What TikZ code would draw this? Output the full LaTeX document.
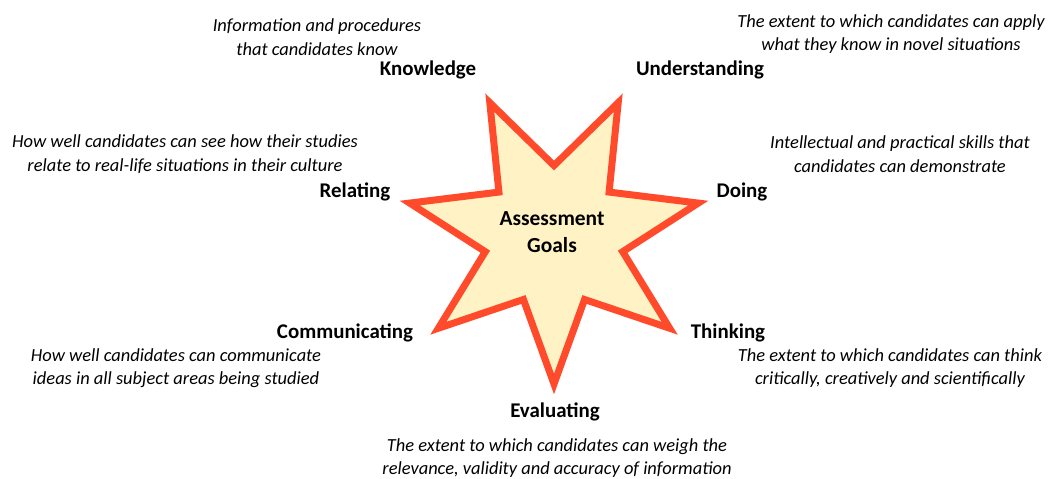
\documentclass[tikz,border=0pt]{standalone}
\usepackage{fontspec}
\setmainfont{Carlito}
\usetikzlibrary{shapes, positioning}
\definecolor{starfill}{RGB}{255,242,196}
\definecolor{starline}{RGB}{255,75,43}

\begin{document}
\begin{tikzpicture}[
    x=0.02cm, y=-0.02cm,
    goal/.style={font=\bfseries\fontsize{11.9}{13}\selectfont, inner sep=0pt},
    desc/.style={font=\itshape\fontsize{10.5}{13.4}\selectfont, align=center, inner sep=0pt},
    hub/.style={star, star points=7, star point ratio=2.1, shape border rotate=180,
        minimum size=5.92cm, inner sep=0pt, draw=starline, fill=starfill, line width=0.14cm},
    hubtext/.style={align=center, inner sep=0pt, font=\bfseries\fontsize{12.2}{15.4}\selectfont}
]
    \useasboundingbox (0,0) rectangle (1052,478);
    % Central star
    \node[hub] (goals) at (554,236) {};
    \node[hubtext] (goalstxt) at (552,232) {Assessment\\Goals};

    % Goals and their descriptions
    \node[goal] (know) at (428,70) {Knowledge};
    \node[desc] (knowtxt) at (317,37) {Information and procedures\\that candidates know};

    \node[goal] (under) at (700,70) {Understanding};
    \node[desc] (undertxt) at (891,34) {The extent to which candidates can apply\\what they know in novel situations};

    \node[goal] (rel) at (355,192) {Relating};
    \node[desc] (reltxt) at (185,154) {How well candidates can see how their studies\\relate to real-life situations in their culture};

    \node[goal] (doing) at (742,192) {Doing};
    \node[desc] (doingtxt) at (900,154) {Intellectual and practical skills that\\candidates can demonstrate};

    \node[goal] (comm) at (345,333) {Communicating};
    \node[desc] (commtxt) at (176,368) {How well candidates can communicate\\ideas in all subject areas being studied};

    \node[goal] (think) at (728,333) {Thinking};
    \node[desc] (thinktxt) at (890,368) {The extent to which candidates can think\\critically, creatively and scientifically};

    \node[goal] (eval) at (555,412) {Evaluating};
    \node[desc] (evaltxt) at (557,458) {The extent to which candidates can weigh the\\relevance, validity and accuracy of information};
\end{tikzpicture}
\end{document}
